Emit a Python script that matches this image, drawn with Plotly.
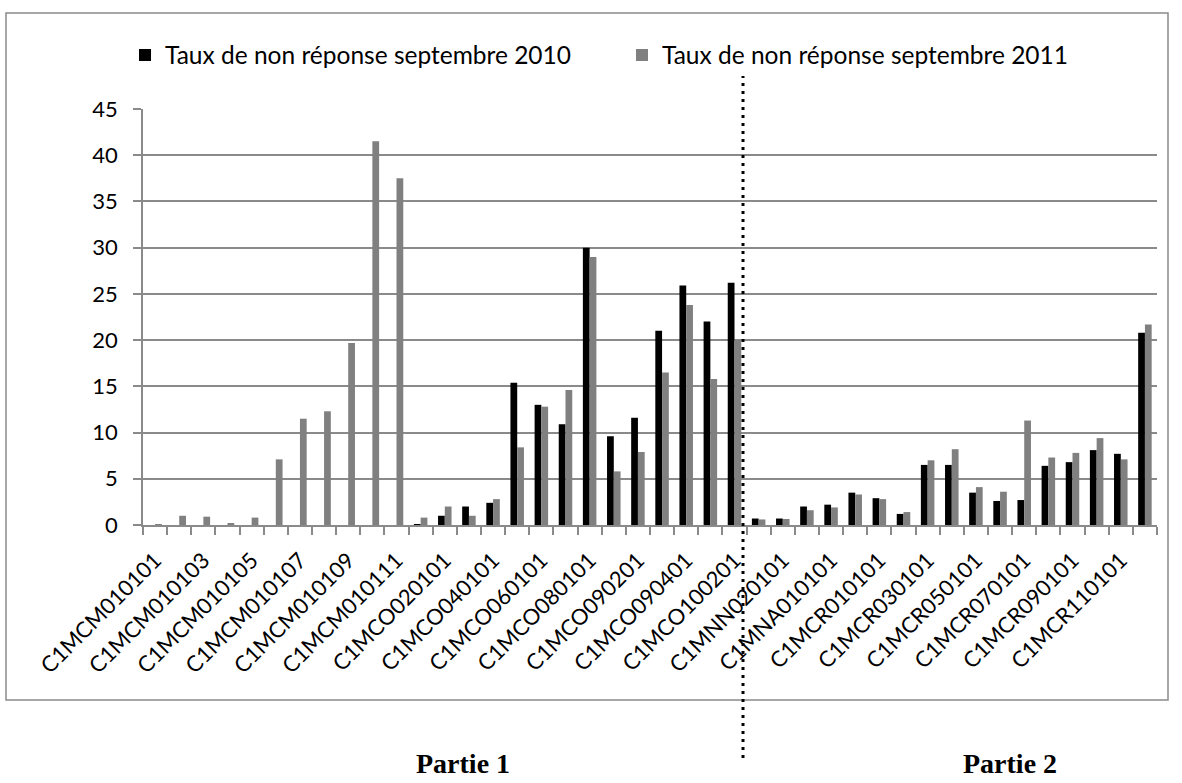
import plotly.graph_objects as go

categories = [
    "C1MCM010101", "C1MCM010102", "C1MCM010103", "C1MCM010104", "C1MCM010105", "C1MCM010106",
    "C1MCM010107", "C1MCM010108", "C1MCM010109", "C1MCM010110", "C1MCM010111", "C1MCM010112",
    "C1MCO020101", "C1MCO030101", "C1MCO040101", "C1MCO050101", "C1MCO060101", "C1MCO070101",
    "C1MCO080101", "C1MCO090101", "C1MCO090201", "C1MCO090301", "C1MCO090401", "C1MCO100101",
    "C1MCO100201", "C1MNN010101", "C1MNN020101", "C1MNN030101", "C1MNA010101", "C1MNA020101",
    "C1MCR010101", "C1MCR020101", "C1MCR030101", "C1MCR040101", "C1MCR050101", "C1MCR060101",
    "C1MCR070101", "C1MCR080101", "C1MCR090101", "C1MCR100101", "C1MCR110101", "C1MCR120101",
]

taux_2010 = [
    0, 0, 0, 0, 0, 0, 0, 0, 0, 0, 0, 0.1,
    1.0, 2.0, 2.4, 15.4, 13.0, 10.9, 30.0, 9.6, 11.6, 21.0, 25.9, 22.0, 26.2,
    0.7, 0.7, 2.0, 2.2, 3.5, 2.9, 1.2, 6.5, 6.5, 3.5, 2.6, 2.7, 6.4, 6.8, 8.1, 7.7, 20.8,
]

taux_2011 = [
    0.1, 1.0, 0.9, 0.2, 0.8, 7.1, 11.5, 12.3, 19.7, 41.5, 37.5, 0.8,
    2.0, 1.0, 2.8, 8.4, 12.8, 14.6, 29.0, 5.8, 7.9, 16.5, 23.8, 15.8, 20.0,
    0.6, 0.65, 1.6, 1.9, 3.3, 2.8, 1.4, 7.0, 8.2, 4.1, 3.6, 11.3, 7.3, 7.8, 9.4, 7.1, 21.7,
]

series_names = ["Taux de non réponse septembre 2010", "Taux de non réponse septembre 2011"]
part_labels = ["Partie 1", "Partie 2"]
tick_text = [c if i % 2 == 0 else "" for i, c in enumerate(categories)]

FONT = "Lato"
GRID = "#8a8a8a"

fig = go.Figure()
fig.add_trace(go.Bar(x=categories, y=taux_2010, name=series_names[0],
                     marker=dict(color="#000000", line=dict(width=0))))
fig.add_trace(go.Bar(x=categories, y=taux_2011, name=series_names[1],
                     marker=dict(color="#808080", line=dict(width=0))))

W, H = 1182, 783
L, R, T, B = 143, 25, 109, 258
pw, ph = W - L - R, H - T - B


def px(x):
    return (x - L) / pw


def py(y):
    return (H - B - y) / ph


fig.update_layout(
    width=W, height=H,
    margin=dict(l=L, r=R, t=T, b=B),
    paper_bgcolor="white", plot_bgcolor="white",
    barmode="group", bargap=0.44, bargroupgap=0,
    font=dict(family=FONT, size=22, color="#000000"),
    showlegend=True,
    legend=dict(orientation="h", x=px(125), y=py(55), xanchor="left", yanchor="middle",
                font=dict(family=FONT, size=24.5, color="#000000"),
                entrywidth=452, entrywidthmode="pixels",
                itemwidth=30, bgcolor="rgba(0,0,0,0)", tracegroupgap=0),
    xaxis=dict(
        type="category",
        tickmode="array", tickvals=categories, ticktext=tick_text,
        tickangle=-45, tickson="boundaries",
        ticks="outside", ticklen=8, tickcolor=GRID, tickwidth=1.5,
        showline=True, linecolor=GRID, linewidth=1.5,
        showgrid=False,
        tickfont=dict(family=FONT, size=22, color="#000000"),
        ticklabelstandoff=12,
    ),
    yaxis=dict(
        range=[0, 45], dtick=5, tick0=0,
        showgrid=True, gridcolor=GRID, gridwidth=1.5,
        showline=True, linecolor=GRID, linewidth=1.5,
        ticks="outside", ticklen=8, tickcolor=GRID, tickwidth=1.5,
        zeroline=False,
        tickfont=dict(family=FONT, size=22, color="#000000"),
        ticklabelstandoff=11,
    ),
    shapes=[
        dict(type="rect", xref="paper", yref="paper",
             x0=px(6), x1=px(1168), y0=py(700), y1=py(13),
             line=dict(color=GRID, width=1.5), fillcolor="rgba(0,0,0,0)", layer="below"),
        dict(type="line", xref="paper", yref="paper",
             x0=px(743), x1=px(743), y0=py(758), y1=py(76),
             line=dict(color="#000000", width=3, dash="3px,5px"), layer="above"),
    ],
    annotations=[
        dict(text="<b>%s</b>" % part_labels[0], xref="paper", yref="paper",
             x=px(463), y=py(781), xanchor="center", yanchor="bottom", showarrow=False,
             font=dict(family="Liberation Serif", size=28, color="#000000")),
        dict(text="<b>%s</b>" % part_labels[1], xref="paper", yref="paper",
             x=px(1010), y=py(781), xanchor="center", yanchor="bottom", showarrow=False,
             font=dict(family="Liberation Serif", size=28, color="#000000")),
    ],
)

fig.write_html(
    "out.html",
    config={"displayModeBar": False},
    post_script="document.body.style.margin='0';document.body.style.overflow='hidden';",
)
